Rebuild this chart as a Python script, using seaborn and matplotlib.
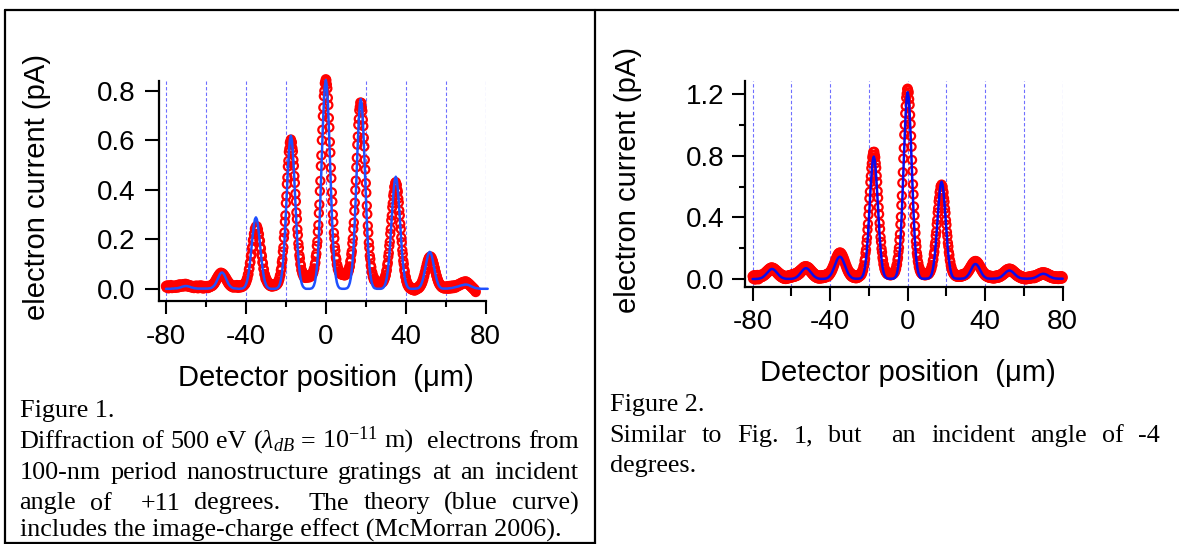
import numpy as np
import matplotlib
matplotlib.use("Agg")
import matplotlib.pyplot as plt
import seaborn as sns
from matplotlib.lines import Line2D
from matplotlib.ticker import FixedLocator, FormatStrFormatter

# ------------------------------------------------------------------
# Data (current in pA, position in um)
# ------------------------------------------------------------------
# Fig. 1, measured points, x = -80 ... 75 every 0.25 um
fig1_data_x0, fig1_data_dx = -80.0, 0.25
fig1_data = [
    0.012, 0.006, 0.010, 0.015, 0.008, 0.003, 0.009, 0.013, 0.007, 0.011, 0.016, 0.010, 0.004, 0.008, 0.012, 0.006, 0.010, 0.014, 0.009, 0.005,
    0.008, 0.012, 0.016, 0.010, 0.006, 0.011, 0.015, 0.019, 0.012, 0.009, 0.014, 0.018, 0.013, 0.010, 0.016, 0.020, 0.014, 0.011, 0.017, 0.021,
    0.016, 0.012, 0.019, 0.015, 0.010, 0.017, 0.013, 0.009, 0.015, 0.011, 0.007, 0.013, 0.010, 0.006, 0.012, 0.008, 0.004, 0.010, 0.013, 0.007,
    0.005, 0.011, 0.014, 0.008, 0.003, 0.009, 0.012, 0.006, 0.010, 0.015, 0.009, 0.004, 0.008, 0.013, 0.007, 0.002, 0.009, 0.012, 0.006, 0.011,
    0.010, 0.005, 0.012, 0.009, 0.004, 0.011, 0.013, 0.007, 0.012, 0.009, 0.014, 0.011, 0.017, 0.013, 0.020, 0.017, 0.025, 0.022, 0.030, 0.029,
    0.038, 0.036, 0.045, 0.043, 0.052, 0.049, 0.058, 0.055, 0.063, 0.059, 0.066, 0.061, 0.064, 0.058, 0.062, 0.054, 0.057, 0.049, 0.051, 0.043,
    0.045, 0.036, 0.038, 0.029, 0.031, 0.022, 0.026, 0.017, 0.021, 0.013, 0.018, 0.010, 0.015, 0.008, 0.013, 0.006, 0.011, 0.015, 0.008, 0.012,
    0.007, 0.013, 0.016, 0.009, 0.005, 0.012, 0.015, 0.010, 0.006, 0.012, 0.016, 0.011, 0.008, 0.014, 0.017, 0.012, 0.019, 0.016, 0.024, 0.021,
    0.030, 0.031, 0.042, 0.043, 0.058, 0.060, 0.079, 0.083, 0.104, 0.109, 0.133, 0.139, 0.165, 0.170, 0.196, 0.200, 0.222, 0.224, 0.243, 0.241,
    0.252, 0.247, 0.253, 0.238, 0.241, 0.222, 0.221, 0.198, 0.194, 0.168, 0.163, 0.139, 0.132, 0.108, 0.104, 0.082, 0.079, 0.060, 0.058, 0.042,
    0.046, 0.034, 0.036, 0.025, 0.029, 0.019, 0.024, 0.015, 0.021, 0.012, 0.019, 0.011, 0.017, 0.010, 0.016, 0.013, 0.019, 0.012, 0.018, 0.014,
    0.020, 0.016, 0.024, 0.020, 0.029, 0.027, 0.038, 0.040, 0.053, 0.057, 0.076, 0.083, 0.108, 0.119, 0.151, 0.168, 0.206, 0.228, 0.271, 0.297,
    0.346, 0.375, 0.423, 0.450, 0.494, 0.517, 0.553, 0.566, 0.590, 0.594, 0.603, 0.595, 0.591, 0.568, 0.555, 0.521, 0.497, 0.456, 0.428, 0.384,
    0.353, 0.309, 0.282, 0.241, 0.218, 0.183, 0.166, 0.136, 0.124, 0.101, 0.095, 0.077, 0.075, 0.062, 0.064, 0.052, 0.056, 0.047, 0.053, 0.045,
    0.055, 0.048, 0.054, 0.046, 0.052, 0.049, 0.055, 0.047, 0.056, 0.050, 0.058, 0.053, 0.062, 0.058, 0.069, 0.067, 0.081, 0.083, 0.099, 0.106,
    0.131, 0.142, 0.174, 0.192, 0.231, 0.258, 0.306, 0.341, 0.395, 0.436, 0.496, 0.539, 0.600, 0.642, 0.697, 0.732, 0.778, 0.799, 0.830, 0.837,
    0.846, 0.842, 0.825, 0.809, 0.771, 0.742, 0.690, 0.652, 0.593, 0.550, 0.489, 0.447, 0.390, 0.353, 0.301, 0.270, 0.227, 0.204, 0.170, 0.155,
    0.128, 0.120, 0.099, 0.096, 0.080, 0.082, 0.069, 0.072, 0.063, 0.068, 0.060, 0.065, 0.058, 0.064, 0.057, 0.062, 0.056, 0.061, 0.055, 0.059,
    0.058, 0.065, 0.060, 0.069, 0.065, 0.076, 0.074, 0.089, 0.091, 0.110, 0.116, 0.140, 0.152, 0.184, 0.203, 0.242, 0.268, 0.315, 0.348, 0.399,
    0.437, 0.491, 0.529, 0.582, 0.615, 0.662, 0.686, 0.721, 0.734, 0.752, 0.748, 0.751, 0.731, 0.718, 0.683, 0.657, 0.610, 0.575, 0.521, 0.482,
    0.427, 0.388, 0.336, 0.302, 0.255, 0.227, 0.187, 0.166, 0.134, 0.121, 0.095, 0.088, 0.068, 0.066, 0.050, 0.052, 0.038, 0.042, 0.032, 0.037,
    0.028, 0.032, 0.025, 0.030, 0.022, 0.028, 0.021, 0.027, 0.022, 0.028, 0.023, 0.029, 0.025, 0.031, 0.027, 0.035, 0.033, 0.042, 0.043, 0.054,
    0.056, 0.071, 0.077, 0.097, 0.106, 0.131, 0.145, 0.174, 0.190, 0.223, 0.242, 0.277, 0.296, 0.330, 0.346, 0.376, 0.388, 0.411, 0.415, 0.428,
    0.431, 0.421, 0.420, 0.401, 0.392, 0.365, 0.349, 0.317, 0.297, 0.263, 0.242, 0.208, 0.189, 0.157, 0.141, 0.114, 0.101, 0.078, 0.070, 0.051,
    0.047, 0.032, 0.031, 0.019, 0.021, 0.011, 0.014, 0.005, 0.009, 0.002, 0.007, -0.001, 0.004, -0.003, 0.002, -0.004, 0.001, -0.006, 0.000, -0.005,
    0.003, -0.002, 0.005, 0.000, 0.007, 0.002, 0.010, 0.005, 0.014, 0.010, 0.019, 0.017, 0.027, 0.026, 0.038, 0.038, 0.051, 0.053, 0.066, 0.070,
    0.083, 0.087, 0.099, 0.103, 0.114, 0.116, 0.125, 0.124, 0.130, 0.128, 0.131, 0.124, 0.125, 0.116, 0.114, 0.103, 0.100, 0.088, 0.084, 0.071,
    0.067, 0.055, 0.052, 0.041, 0.039, 0.029, 0.028, 0.020, 0.021, 0.014, 0.016, 0.009, 0.012, 0.006, 0.010, 0.004, 0.009, 0.002, 0.008, 0.003,
    0.009, 0.004, 0.011, 0.006, 0.001, 0.008, 0.012, 0.005, 0.002, 0.009, 0.013, 0.007, 0.003, 0.010, 0.014, 0.008, 0.004, 0.011, 0.015, 0.009,
    0.006, 0.012, 0.016, 0.010, 0.014, 0.019, 0.013, 0.017, 0.022, 0.016, 0.020, 0.025, 0.019, 0.023, 0.028, 0.022, 0.026, 0.030, 0.024, 0.028,
    0.031, 0.025, 0.029, 0.022, 0.026, 0.019, 0.023, 0.016, 0.019, 0.012, 0.015, 0.008, 0.011, 0.004, 0.007, 0.000, 0.003, -0.004, -0.001, -0.008,
    -0.012,
]

# Fig. 1, theory curve, x = -80 ... 81 every 0.5 um
fig1_theory_x0, fig1_theory_dx = -80.0, 0.5
fig1_theory = [
    0.001, 0.001, 0.001, 0.001, 0.001, 0.001, 0.002, 0.002, 0.002, 0.003,
    0.003, 0.003, 0.004, 0.005, 0.006, 0.007, 0.009, 0.010, 0.011, 0.012,
    0.012, 0.012, 0.011, 0.010, 0.009, 0.007, 0.006, 0.005, 0.004, 0.003,
    0.003, 0.002, 0.002, 0.002, 0.002, 0.002, 0.002, 0.002, 0.002, 0.002,
    0.002, 0.002, 0.002, 0.003, 0.003, 0.004, 0.006, 0.009, 0.013, 0.018,
    0.025, 0.034, 0.043, 0.052, 0.060, 0.065, 0.067, 0.065, 0.060, 0.052,
    0.043, 0.034, 0.025, 0.018, 0.013, 0.009, 0.006, 0.004, 0.003, 0.003,
    0.002, 0.002, 0.001, 0.001, 0.001, 0.002, 0.002, 0.003, 0.006, 0.010,
    0.018, 0.030, 0.048, 0.073, 0.105, 0.143, 0.184, 0.224, 0.258, 0.281,
    0.289, 0.281, 0.258, 0.224, 0.184, 0.143, 0.105, 0.073, 0.048, 0.030,
    0.018, 0.010, 0.006, 0.003, 0.002, 0.001, 0.001, 0.001, 0.001, 0.001,
    0.002, 0.003, 0.006, 0.011, 0.021, 0.037, 0.063, 0.101, 0.154, 0.223,
    0.304, 0.392, 0.479, 0.552, 0.601, 0.618, 0.601, 0.552, 0.479, 0.392,
    0.304, 0.223, 0.154, 0.101, 0.063, 0.037, 0.021, 0.011, 0.006, 0.003,
    0.001, 0.001, 0.001, 0.001, 0.001, 0.002, 0.003, 0.007, 0.014, 0.027,
    0.050, 0.085, 0.137, 0.210, 0.303, 0.415, 0.535, 0.653, 0.753, 0.819,
    0.843, 0.819, 0.753, 0.653, 0.535, 0.415, 0.303, 0.210, 0.137, 0.085,
    0.050, 0.027, 0.014, 0.007, 0.003, 0.002, 0.001, 0.001, 0.001, 0.001,
    0.002, 0.003, 0.006, 0.013, 0.025, 0.045, 0.077, 0.125, 0.191, 0.276,
    0.377, 0.486, 0.594, 0.684, 0.745, 0.766, 0.745, 0.684, 0.594, 0.486,
    0.377, 0.276, 0.191, 0.125, 0.077, 0.045, 0.025, 0.013, 0.006, 0.003,
    0.002, 0.001, 0.001, 0.001, 0.001, 0.001, 0.002, 0.004, 0.008, 0.015,
    0.027, 0.046, 0.074, 0.113, 0.163, 0.223, 0.288, 0.351, 0.405, 0.440,
    0.453, 0.440, 0.405, 0.351, 0.288, 0.223, 0.163, 0.113, 0.074, 0.046,
    0.027, 0.015, 0.008, 0.004, 0.002, 0.001, 0.001, 0.001, 0.001, 0.001,
    0.002, 0.002, 0.003, 0.005, 0.009, 0.015, 0.025, 0.037, 0.054, 0.074,
    0.095, 0.116, 0.134, 0.146, 0.150, 0.146, 0.134, 0.116, 0.095, 0.074,
    0.054, 0.037, 0.025, 0.015, 0.009, 0.005, 0.003, 0.002, 0.002, 0.002,
    0.002, 0.002, 0.002, 0.003, 0.003, 0.004, 0.004, 0.005, 0.006, 0.007,
    0.008, 0.009, 0.010, 0.011, 0.013, 0.014, 0.015, 0.016, 0.017, 0.018,
    0.018, 0.018, 0.017, 0.016, 0.014, 0.012, 0.010, 0.008, 0.007, 0.005,
    0.004, 0.003, 0.003, 0.002, 0.002, 0.001, 0.001, 0.001, 0.001, 0.001,
    0.001, 0.001, 0.001,
]

# Fig. 2, measured points, x = -80 ... 80 every 0.25 um
fig2_data_x0, fig2_data_dx = -80.0, 0.25
fig2_data = [
    0.018, 0.002, 0.012, 0.025, 0.008, -0.004, 0.015, 0.022, 0.005, 0.011, 0.026, 0.009, -0.002, 0.017, 0.024, 0.007, 0.013, 0.028, 0.012, 0.020,
    0.014, 0.030, 0.018, 0.035, 0.022, 0.040, 0.027, 0.046, 0.033, 0.052, 0.039, 0.058, 0.045, 0.064, 0.051, 0.069, 0.056, 0.073, 0.059, 0.075,
    0.063, 0.074, 0.060, 0.071, 0.055, 0.068, 0.050, 0.062, 0.045, 0.057, 0.038, 0.051, 0.031, 0.045, 0.025, 0.040, 0.019, 0.034, 0.014, 0.030,
    0.010, 0.027, 0.006, 0.024, 0.003, 0.021, 0.001, 0.019, 0.000, 0.018, 0.002, 0.020, 0.004, 0.022, 0.005, 0.023, 0.006, 0.025, 0.008, 0.027,
    0.010, 0.029, 0.012, 0.031, 0.013, 0.033, 0.015, 0.035, 0.017, 0.037, 0.019, 0.041, 0.022, 0.045, 0.026, 0.050, 0.031, 0.055, 0.036, 0.061,
    0.044, 0.066, 0.051, 0.072, 0.057, 0.078, 0.062, 0.081, 0.065, 0.083, 0.066, 0.082, 0.064, 0.080, 0.061, 0.076, 0.056, 0.071, 0.050, 0.064,
    0.043, 0.057, 0.035, 0.050, 0.028, 0.043, 0.021, 0.037, 0.016, 0.032, 0.011, 0.028, 0.008, 0.025, 0.005, 0.023, 0.004, 0.022, 0.003, 0.021,
    0.004, 0.022, 0.006, 0.024, 0.005, 0.023, 0.007, 0.025, 0.008, 0.026, 0.010, 0.029, 0.012, 0.031, 0.014, 0.034, 0.018, 0.039, 0.024, 0.044,
    0.033, 0.052, 0.043, 0.063, 0.055, 0.077, 0.070, 0.092, 0.087, 0.109, 0.105, 0.126, 0.123, 0.142, 0.139, 0.156, 0.151, 0.166, 0.159, 0.171,
    0.164, 0.172, 0.158, 0.167, 0.150, 0.157, 0.137, 0.143, 0.121, 0.127, 0.104, 0.109, 0.086, 0.091, 0.069, 0.075, 0.054, 0.061, 0.041, 0.050,
    0.031, 0.043, 0.022, 0.036, 0.016, 0.031, 0.012, 0.028, 0.009, 0.026, 0.007, 0.025, 0.006, 0.024, 0.005, 0.024, 0.007, 0.025, 0.009, 0.027,
    0.015, 0.031, 0.019, 0.036, 0.025, 0.045, 0.037, 0.060, 0.057, 0.083, 0.088, 0.118, 0.131, 0.169, 0.190, 0.236, 0.267, 0.320, 0.358, 0.417,
    0.461, 0.523, 0.567, 0.628, 0.668, 0.720, 0.750, 0.789, 0.805, 0.825, 0.824, 0.826, 0.806, 0.790, 0.752, 0.722, 0.670, 0.630, 0.571, 0.527,
    0.466, 0.421, 0.363, 0.325, 0.272, 0.241, 0.197, 0.174, 0.139, 0.124, 0.097, 0.089, 0.067, 0.065, 0.049, 0.051, 0.038, 0.042, 0.031, 0.038,
    0.030, 0.036, 0.026, 0.035, 0.024, 0.034, 0.025, 0.036, 0.028, 0.039, 0.031, 0.043, 0.037, 0.051, 0.047, 0.065, 0.066, 0.088, 0.095, 0.124,
    0.139, 0.177, 0.203, 0.253, 0.291, 0.354, 0.404, 0.479, 0.541, 0.624, 0.693, 0.782, 0.851, 0.937, 1.000, 1.075, 1.123, 1.177, 1.203, 1.232,
    1.236, 1.224, 1.211, 1.168, 1.131, 1.066, 1.008, 0.929, 0.859, 0.773, 0.702, 0.615, 0.549, 0.471, 0.412, 0.345, 0.299, 0.244, 0.211, 0.168,
    0.147, 0.115, 0.103, 0.079, 0.074, 0.056, 0.057, 0.041, 0.047, 0.033, 0.041, 0.029, 0.037, 0.026, 0.035, 0.025, 0.034, 0.024, 0.036, 0.027,
    0.037, 0.028, 0.040, 0.031, 0.044, 0.038, 0.053, 0.049, 0.066, 0.066, 0.087, 0.091, 0.118, 0.127, 0.160, 0.176, 0.215, 0.237, 0.281, 0.307,
    0.355, 0.384, 0.432, 0.459, 0.504, 0.526, 0.563, 0.575, 0.601, 0.602, 0.613, 0.601, 0.600, 0.574, 0.561, 0.524, 0.501, 0.457, 0.429, 0.382,
    0.352, 0.305, 0.277, 0.234, 0.211, 0.173, 0.156, 0.124, 0.112, 0.087, 0.081, 0.061, 0.059, 0.043, 0.045, 0.032, 0.036, 0.024, 0.031, 0.019,
    0.027, 0.016, 0.026, 0.015, 0.025, 0.014, 0.025, 0.014, 0.026, 0.015, 0.027, 0.016, 0.029, 0.018, 0.031, 0.020, 0.033, 0.023, 0.036, 0.026,
    0.040, 0.030, 0.045, 0.037, 0.053, 0.045, 0.062, 0.055, 0.072, 0.065, 0.083, 0.076, 0.093, 0.086, 0.103, 0.095, 0.110, 0.101, 0.115, 0.105,
    0.117, 0.104, 0.115, 0.101, 0.110, 0.094, 0.102, 0.086, 0.092, 0.075, 0.081, 0.064, 0.070, 0.052, 0.059, 0.042, 0.049, 0.033, 0.041, 0.025,
    0.035, 0.020, 0.030, 0.016, 0.027, 0.013, 0.024, 0.010, 0.022, 0.008, 0.021, 0.007, 0.020, 0.006, 0.019, 0.005, 0.018, 0.004, 0.018, 0.004,
    0.020, 0.006, 0.021, 0.007, 0.022, 0.008, 0.023, 0.009, 0.025, 0.011, 0.027, 0.014, 0.030, 0.018, 0.034, 0.022, 0.038, 0.027, 0.044, 0.032,
    0.049, 0.037, 0.055, 0.042, 0.060, 0.047, 0.064, 0.050, 0.066, 0.052, 0.067, 0.052, 0.066, 0.050, 0.064, 0.047, 0.060, 0.043, 0.055, 0.038,
    0.049, 0.032, 0.044, 0.027, 0.038, 0.021, 0.033, 0.017, 0.029, 0.013, 0.025, 0.010, 0.022, 0.007, 0.019, 0.004, 0.017, 0.002, 0.015, 0.001,
    0.013, -0.001, 0.012, -0.002, 0.011, -0.001, 0.013, 0.000, 0.014, 0.001, 0.015, 0.002, 0.016, 0.003, 0.017, 0.005, 0.019, 0.006, 0.021, 0.008,
    0.020, 0.005, 0.022, 0.008, 0.024, 0.011, 0.027, 0.014, 0.030, 0.017, 0.033, 0.020, 0.036, 0.023, 0.039, 0.026, 0.041, 0.027, 0.043, 0.028,
    0.043, 0.028, 0.042, 0.027, 0.041, 0.025, 0.039, 0.022, 0.036, 0.019, 0.033, 0.016, 0.029, 0.013, 0.026, 0.010, 0.023, 0.007, 0.021, 0.005,
    0.019, 0.004, 0.018, 0.003, 0.017, 0.002, 0.016, 0.001, 0.016, 0.001, 0.015, 0.000, 0.015, 0.001, 0.016, 0.002, 0.017, 0.003, 0.018, 0.004,
    0.012,
]

# Fig. 2, theory curve, x = -80 ... 80 every 0.5 um
fig2_theory_x0, fig2_theory_dx = -80.0, 0.5
fig2_theory = [
    0.000, 0.000, 0.000, 0.000, 0.001, 0.001, 0.002, 0.003, 0.005, 0.007,
    0.010, 0.015, 0.020, 0.026, 0.033, 0.041, 0.048, 0.055, 0.060, 0.064,
    0.065, 0.064, 0.060, 0.055, 0.048, 0.041, 0.033, 0.026, 0.020, 0.015,
    0.010, 0.007, 0.005, 0.003, 0.002, 0.001, 0.001, 0.001, 0.001, 0.001,
    0.001, 0.002, 0.003, 0.005, 0.008, 0.011, 0.016, 0.021, 0.028, 0.036,
    0.044, 0.052, 0.059, 0.065, 0.069, 0.070, 0.069, 0.065, 0.059, 0.052,
    0.044, 0.036, 0.028, 0.021, 0.016, 0.011, 0.008, 0.005, 0.003, 0.002,
    0.001, 0.001, 0.001, 0.001, 0.002, 0.002, 0.004, 0.006, 0.010, 0.016,
    0.023, 0.032, 0.044, 0.059, 0.075, 0.091, 0.108, 0.123, 0.135, 0.142,
    0.145, 0.142, 0.135, 0.123, 0.108, 0.091, 0.075, 0.059, 0.044, 0.032,
    0.023, 0.016, 0.010, 0.006, 0.004, 0.003, 0.002, 0.002, 0.002, 0.002,
    0.003, 0.004, 0.007, 0.014, 0.026, 0.047, 0.080, 0.130, 0.198, 0.286,
    0.391, 0.505, 0.616, 0.710, 0.773, 0.795, 0.773, 0.710, 0.616, 0.505,
    0.391, 0.286, 0.198, 0.130, 0.080, 0.047, 0.026, 0.014, 0.007, 0.004,
    0.003, 0.002, 0.002, 0.002, 0.002, 0.003, 0.005, 0.010, 0.021, 0.039,
    0.072, 0.123, 0.198, 0.302, 0.437, 0.597, 0.770, 0.940, 1.083, 1.179,
    1.213, 1.179, 1.083, 0.940, 0.770, 0.597, 0.437, 0.302, 0.198, 0.123,
    0.072, 0.039, 0.021, 0.010, 0.005, 0.003, 0.002, 0.002, 0.002, 0.002,
    0.003, 0.004, 0.006, 0.011, 0.020, 0.037, 0.064, 0.103, 0.157, 0.228,
    0.311, 0.401, 0.490, 0.564, 0.614, 0.632, 0.614, 0.564, 0.490, 0.401,
    0.311, 0.228, 0.157, 0.103, 0.064, 0.037, 0.020, 0.011, 0.006, 0.004,
    0.003, 0.002, 0.002, 0.002, 0.002, 0.002, 0.003, 0.003, 0.004, 0.007,
    0.011, 0.016, 0.023, 0.032, 0.043, 0.055, 0.068, 0.080, 0.090, 0.096,
    0.097, 0.095, 0.089, 0.080, 0.068, 0.055, 0.043, 0.032, 0.023, 0.016,
    0.011, 0.007, 0.004, 0.003, 0.003, 0.002, 0.002, 0.002, 0.002, 0.003,
    0.003, 0.003, 0.004, 0.005, 0.007, 0.010, 0.013, 0.018, 0.023, 0.029,
    0.035, 0.041, 0.047, 0.051, 0.054, 0.055, 0.054, 0.051, 0.047, 0.041,
    0.035, 0.029, 0.023, 0.018, 0.013, 0.010, 0.007, 0.005, 0.004, 0.003,
    0.003, 0.003, 0.002, 0.002, 0.002, 0.003, 0.003, 0.003, 0.004, 0.005,
    0.007, 0.009, 0.012, 0.015, 0.018, 0.022, 0.026, 0.029, 0.031, 0.033,
    0.034, 0.033, 0.031, 0.029, 0.026, 0.022, 0.018, 0.015, 0.012, 0.009,
    0.007, 0.005, 0.004, 0.003, 0.003, 0.002, 0.002, 0.002, 0.002, 0.002,
    0.002,
]

x_ticks = [-80, -40, 0, 40, 80]
x_minor = [-60, -20, 20, 60]
fig1_yticks = [0.0, 0.2, 0.4, 0.6, 0.8]
fig2_yticks = [0.0, 0.4, 0.8, 1.2]
fig2_yminor = [0.2, 0.6, 1.0]

x_label = "Detector position  (\u03bcm)"
y_label = "electron current (pA)"

fig1_caption = [
    "Figure 1.",
    r"Diffraction of 500 eV ($\lambda_{dB}$ = 10$^{-11}$ m)  electrons from",
    "100-nm period nanostructure gratings at an incident",
    "angle of  +11 degrees.  The theory (blue curve)",
    "includes the image-charge effect (McMorran 2006).",
]
fig2_caption = [
    "Figure 2.",
    "Similar to Fig. 1, but  an incident angle of -4",
    "degrees.",
]

# ------------------------------------------------------------------
# Style
# ------------------------------------------------------------------
sns.set_theme(style="ticks")
plt.rcParams["font.family"] = ["Liberation Sans", "DejaVu Sans"]
plt.rcParams["axes.unicode_minus"] = False
plt.rcParams["text.color"] = "black"
plt.rcParams["mathtext.fontset"] = "custom"
plt.rcParams["mathtext.rm"] = "Liberation Serif"
plt.rcParams["mathtext.it"] = "Liberation Serif:italic"

W, H = 1179, 544
fig = plt.figure(figsize=(W / 100, H / 100), dpi=100)


def px_box(x0, y0, x1, y1):
    return [x0 / W, 1 - y1 / H, (x1 - x0) / W, (y1 - y0) / H]


def panel(box, data, data_x0, data_dx, theory, theory_x0, theory_dx, blue,
          xlim, ylim, yticks, yminor, xlen, ylen, xpad, ypad, ylab_pos, xlab_pos):
    ax = fig.add_axes(px_box(*box))
    dx = data_x0 + data_dx * np.arange(len(data))
    tx = theory_x0 + theory_dx * np.arange(len(theory))

    sns.scatterplot(x=dx, y=data, ax=ax, marker="o", s=34, facecolor="none",
                    edgecolor="#ff0000", linewidth=1.6, clip_on=False, zorder=2)
    sns.lineplot(x=tx, y=theory, ax=ax, color=blue, linewidth=1.8,
                 clip_on=False, zorder=3)

    ax.set_xlim(*xlim)
    ax.set_ylim(*ylim)
    ax.xaxis.set_major_locator(FixedLocator(x_ticks))
    ax.xaxis.set_minor_locator(FixedLocator(x_minor))
    ax.yaxis.set_major_locator(FixedLocator(yticks))
    ax.yaxis.set_minor_locator(FixedLocator(yminor))
    ax.yaxis.set_major_formatter(FormatStrFormatter("%.1f"))

    ax.set_axisbelow(True)
    ax.grid(True, axis="x", which="both", color="#6f6fff", linewidth=0.8,
            linestyle=(0, (3, 2)))

    for side in ["top", "right"]:
        ax.spines[side].set_visible(False)
    for side in ["left", "bottom"]:
        ax.spines[side].set_linewidth(1.6)
        ax.spines[side].set_color("black")

    ax.tick_params(axis="x", which="major", length=xlen[0], width=1.5,
                   color="black", labelcolor="black", labelsize=20, pad=xpad)
    ax.tick_params(axis="x", which="minor", length=xlen[1], width=1.5,
                   color="black")
    ax.tick_params(axis="y", which="major", length=ylen[0], width=1.5,
                   color="black", labelcolor="black", labelsize=20, pad=ypad)
    ax.tick_params(axis="y", which="minor", length=ylen[1], width=1.5,
                   color="black")

    ax.set_xlabel(x_label, fontsize=21, color="black")
    ax.set_ylabel(y_label, fontsize=21, color="black")
    ax.xaxis.set_label_coords(*xlab_pos)
    ax.yaxis.set_label_coords(*ylab_pos)
    ax.xaxis.label.set_verticalalignment("center")
    ax.yaxis.label.set_verticalalignment("center")
    return ax


panel((159, 81, 485.7, 300.7), fig1_data, fig1_data_x0, fig1_data_dx,
      fig1_theory, fig1_theory_x0, fig1_theory_dx, "#1f50ff",
      (-83.5, 80), (-0.047, 0.839), fig1_yticks, [],
      (9, 4.5), (10, 0), 8, 6.8, (-0.372, 0.5175), (0.51, -0.352))

panel((745.1, 80.7, 1062.7, 286.7), fig2_data, fig2_data_x0, fig2_data_dx,
      fig2_theory, fig2_theory_x0, fig2_theory_dx, "#0a0aee",
      (-83.9, 80), (-0.05, 1.288), fig2_yticks, fig2_yminor,
      (10, 6.5), (9.2, 4.6), 6.3, 5.7, (-0.370, 0.518), (0.513, -0.419))

# ------------------------------------------------------------------
# Captions (justified like the document text)
# ------------------------------------------------------------------
CAP_SIZE = 18.8
renderer = fig.canvas.get_renderer()


def caption(lines, baselines, x0, x1, justified):
    for line, base, just in zip(lines, baselines, justified):
        if not just:
            fig.text(x0 / W, 1 - base / H, line, fontsize=CAP_SIZE, color="black",
                     family="Liberation Serif", va="baseline", ha="left")
            continue
        words = line.split(" ")
        arts, widths = [], []
        for w in words:
            if w:
                t = fig.text(0, 0, w, fontsize=CAP_SIZE, color="black",
                             family="Liberation Serif", va="baseline")
                arts.append(t)
                widths.append(t.get_window_extent(renderer).width)
            else:
                arts.append(None)
                widths.append(0.0)
        gap = (x1 - x0 - sum(widths)) / (len(words) - 1)
        x = x0
        for t, wd in zip(arts, widths):
            if t is not None:
                t.set_position((x / W, 1 - base / H))
            x += wd + gap


caption(fig1_caption, [417.5, 448.0, 479.0, 509.5, 536.5], 19.6, 578.5,
        [False, True, True, True, False])
caption(fig2_caption, [410.7, 442.0, 472.0], 609.6, 1160.0,
        [False, True, False])

# table borders
for (xa, ya, xb, yb) in [(4.5, 10, 1179, 10), (4.5, 10, 4.5, 544),
                         (594.5, 10, 594.5, 544), (4.5, 543, 594.5, 543)]:
    fig.add_artist(Line2D([xa / W, xb / W], [1 - ya / H, 1 - yb / H],
                          transform=fig.transFigure, color="black", lw=1.6))

fig.savefig("out.png", dpi=100)
